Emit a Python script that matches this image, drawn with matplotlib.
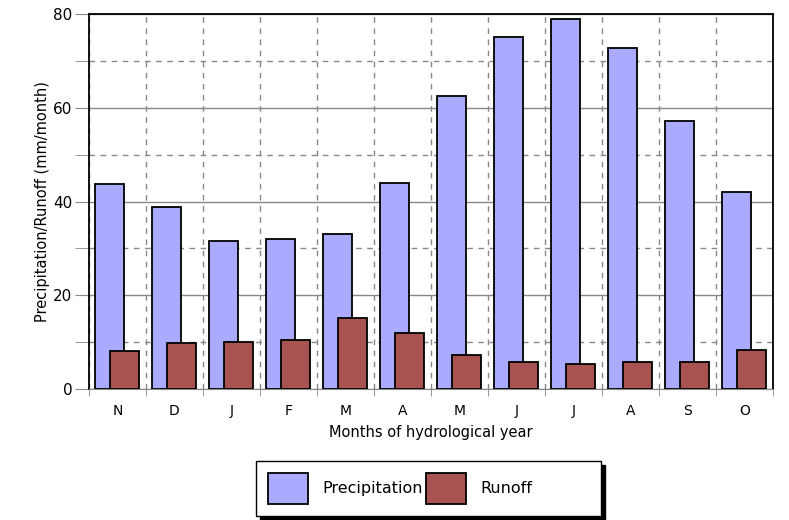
import numpy as np
import matplotlib.pyplot as plt
from matplotlib.patches import Rectangle
from matplotlib.ticker import MultipleLocator, FixedLocator

months = ["N", "D", "J", "F", "M", "A", "M", "J", "J", "A", "S", "O"]
precipitation = [43.7, 38.8, 31.6, 32.0, 33.1, 44.0, 62.5, 75.2, 78.9, 72.7, 57.1, 42.1]
runoff = [8.0, 9.8, 10.1, 10.5, 15.2, 12.0, 7.3, 5.8, 5.4, 5.8, 5.8, 8.4]

fig = plt.figure(figsize=(7.89, 5.2), dpi=100)
ax = fig.add_axes([0.1128, 0.252, 0.8669, 0.721])

x = np.arange(len(months))
w = 0.51
b1 = ax.bar(x - 0.14, precipitation, w, color="#aaaaff", edgecolor="black",
            linewidth=1.3, label="Precipitation", zorder=3)
b2 = ax.bar(x + 0.12, runoff, w, color="#a85252", edgecolor="black",
            linewidth=1.3, label="Runoff", zorder=4)

ax.set_xlim(-0.5, len(months) - 0.5)
ax.set_ylim(0, 80)

# y grid: solid at major, dashed at minor
ax.yaxis.set_major_locator(MultipleLocator(20))
ax.yaxis.set_minor_locator(MultipleLocator(10))
ax.grid(axis="y", which="major", color="#888888", linewidth=1.0, zorder=0)
ax.grid(axis="y", which="minor", color="#888888", linewidth=1.0,
        linestyle=(0, (4, 4)), zorder=0)

# month labels in the middle, dashed separators between them
ax.set_xticks(x)
ax.set_xticklabels(months)
ax.xaxis.set_minor_locator(FixedLocator(np.arange(-0.5, len(months), 1.0)))
ax.grid(axis="x", which="minor", color="#888888", linewidth=1.0,
        linestyle=(0, (4, 4)), zorder=0)
ax.tick_params(axis="x", which="major", length=0, pad=11, labelsize=10)
ax.tick_params(axis="x", which="minor", length=5, color="#888888", direction="out")
ax.tick_params(axis="y", which="both", length=10, color="#888888", labelsize=11, pad=2)

for side in ["top", "left", "right"]:
    ax.spines[side].set_color("black")
    ax.spines[side].set_linewidth(1.3)
ax.spines["bottom"].set_color("#888888")

ax.set_xlabel("Months of hydrological year", fontsize=10.5, labelpad=5)
ax.set_ylabel("Precipitation/Runoff (mm/month)", fontsize=10.5, labelpad=2)

# blank entry pads the legend box on the right
blank = Rectangle((0, 0), 1, 1, fill=False, edgecolor="none")
fig.legend([b1, b2, blank], ["Precipitation", "Runoff", ""],
           loc="center", bbox_to_anchor=(0.543, 0.061), ncol=3,
           fontsize=11.5, frameon=True, fancybox=False, edgecolor="black",
           handlelength=2.5, handleheight=2.65, handletextpad=0.9,
           borderpad=0.75, borderaxespad=0, columnspacing=0.2,
           shadow={"ox": 3, "oy": -3, "facecolor": "black",
                   "edgecolor": "black", "alpha": 1})

fig.savefig("out.png", dpi=100)
